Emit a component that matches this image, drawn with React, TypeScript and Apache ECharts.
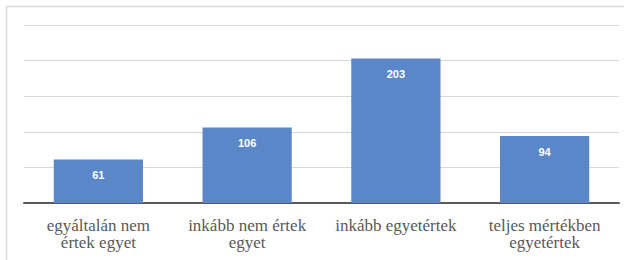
import React, { useEffect, useRef } from "react";
import * as echarts from "echarts";

const categories = [
  "egyáltalán nem\nértek egyet",
  "inkább nem értek\negyet",
  "inkább egyetértek",
  "teljes mértékben\negyetértek",
];
const values = [61, 106, 203, 94];
const yMin = 0;
const yMax = 250;
const yInterval = 50;

const serif = "Liberation Serif";

export default function App() {
  const ref = useRef<HTMLDivElement>(null);
  useEffect(() => {
    if (!ref.current) return;
    const chart = echarts.init(ref.current, null, { renderer: "svg" });
    chart.setOption({
      animation: false,
      backgroundColor: "#ffffff",
      graphic: [
        {
          type: "rect",
          shape: { x: 6.5, y: 6.5, width: 640, height: 300 },
          style: { fill: "none", stroke: "#d9d9d9", lineWidth: 1.5 },
          silent: true,
          z: -1,
        },
      ],
      grid: { left: 24, right: 5, top: 25, bottom: 57, containLabel: false },
      xAxis: {
        type: "category",
        data: categories,
        axisLine: { show: true, lineStyle: { color: "#595959", width: 2 } },
        axisTick: { show: false },
        axisLabel: {
          interval: 0,
          margin: 14,
          fontFamily: serif,
          fontSize: 17,
          color: "#595959",
        },
      },
      yAxis: {
        type: "value",
        min: yMin,
        max: yMax,
        interval: yInterval,
        axisLine: { show: false },
        axisTick: { show: false },
        axisLabel: { show: false },
        splitLine: { show: true, lineStyle: { color: "#d9d9d9", width: 1 } },
      },
      series: [
        {
          type: "bar",
          data: values,
          barWidth: "60%",
          itemStyle: { color: "#5b87c9" },
          label: {
            show: true,
            position: "insideTop",
            distance: 10,
            color: "#ffffff",
            fontFamily: "Liberation Sans",
            fontWeight: "bold",
            fontSize: 11,
          },
        },
      ],
    });
    return () => chart.dispose();
  }, []);
  return (
    <div
      ref={ref}
      style={{ position: "fixed", left: 0, top: 0, width: 624, height: 260 }}
    />
  );
}
